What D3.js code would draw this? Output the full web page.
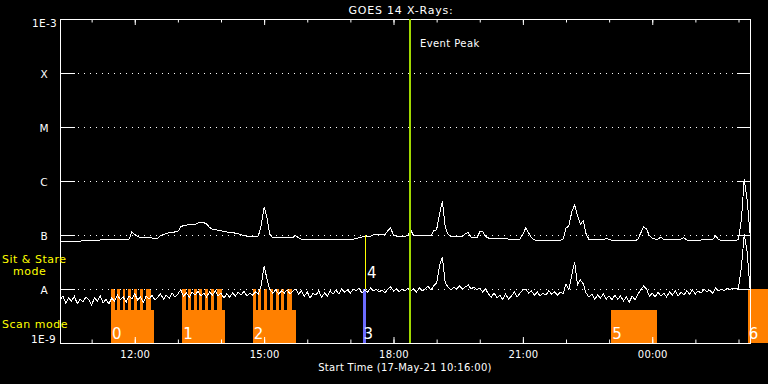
<!DOCTYPE html>
<html>
<head>
<meta charset="utf-8">
<script src="https://cdn.jsdelivr.net/npm/d3@7"></script>
<style>
  body { margin: 0; background: #000; }
  svg { display: block; }
  text { font-family: 'DejaVu Sans', sans-serif; fill: #fff; }
</style>
</head>
<body>
<svg id="chart" width="768" height="384"></svg>
<script>
// GOES 14 X-ray flux, one sample every 4 minutes from the start time
// values are in units of 1e-9 W/m^2
var startTime = '2021-05-17 10:16';
var sampleMinutes = 4;

var longFlux = [
  77, 77, 77, 77, 77, 77, 77, 77,
  78, 78, 78, 79, 79, 80, 81, 81,
  81, 81, 82, 82, 82, 82, 83, 83,
  83, 114, 102, 93, 90, 90, 90, 89,
  88, 87, 88, 98, 102, 107, 111, 112,
  114, 116, 141, 151, 153, 155, 156, 156,
  167, 172, 169, 160, 138, 129, 126, 123,
  120, 117, 114, 112, 111, 108, 105, 102,
  97, 95, 94, 94, 94, 96, 153, 330,
  206, 102, 90, 88, 88, 88, 88, 88,
  88, 90, 97, 88, 84, 84, 84, 84,
  84, 83, 83, 82, 82, 82, 82, 82,
  82, 82, 83, 84, 84, 84, 84, 85,
  90, 92, 92, 92, 94, 102, 103, 103,
  102, 102, 119, 135, 98, 95, 94, 94,
  94, 100, 126, 96, 96, 96, 96, 96,
  96, 96, 119, 126, 244, 420, 141, 102,
  94, 94, 94, 94, 94, 107, 111, 90,
  88, 88, 114, 116, 94, 88, 86, 86,
  86, 86, 85, 85, 84, 84, 83, 83,
  84, 104, 135, 109, 90, 81, 79, 79,
  79, 79, 79, 79, 79, 79, 79, 84,
  135, 147, 267, 359, 225, 160, 182, 104,
  83, 81, 81, 81, 81, 83, 86, 83,
  79, 78, 78, 78, 78, 78, 78, 78,
  78, 83, 109, 141, 129, 98, 87, 84,
  84, 91, 83, 81, 81, 81, 81, 81,
  84, 89, 81, 78, 78, 78, 78, 81,
  84, 82, 81, 83, 96, 84, 78, 78,
  78, 78, 78, 78, 83, 190, 1089, 445,
  110
];

var shortFlux = [
  6.3, 7.4, 5.5, 6.8, 6.0, 7.4, 5.3, 6.5,
  5.7, 7.1, 6.3, 5.1, 6.8, 6.0, 7.4, 5.5,
  6.5, 5.3, 6.8, 6.0, 7.7, 6.3, 7.1, 5.7,
  7.4, 6.5, 8.1, 6.3, 7.1, 5.7, 7.4, 6.5,
  7.7, 6.3, 7.1, 8.1, 6.5, 7.7, 6.8, 8.4,
  7.1, 8.1, 9.6, 7.4, 8.4, 7.1, 8.8, 7.7,
  9.2, 7.4, 8.4, 7.1, 8.8, 7.7, 9.2, 7.4,
  8.4, 6.8, 8.1, 7.1, 8.4, 7.4, 8.8, 7.7,
  9.2, 7.4, 8.4, 7.7, 8.8, 8.1, 11.9, 26.7,
  15.3, 9.6, 8.4, 9.6, 8.1, 9.2, 8.4, 9.6,
  8.1, 9.2, 10.0, 8.1, 9.2, 7.4, 8.8, 6.8,
  8.4, 7.7, 9.2, 7.1, 8.4, 7.4, 9.2, 8.1,
  9.6, 8.1, 10.0, 8.8, 9.6, 8.4, 10.0, 9.2,
  10.4, 8.4, 9.6, 8.8, 10.4, 9.2, 10.0, 8.8,
  9.6, 8.4, 10.0, 10.9, 9.2, 10.0, 8.8, 10.0,
  9.2, 10.4, 9.2, 10.0, 8.8, 10.4, 9.2, 10.0,
  11.4, 9.6, 11.4, 12.9, 26.7, 39.0, 12.9, 10.9,
  9.6, 10.9, 10.0, 11.4, 10.0, 10.9, 11.9, 10.0,
  10.9, 9.6, 10.4, 8.8, 10.0, 8.1, 7.1, 8.4,
  6.8, 7.7, 6.3, 8.1, 6.5, 7.4, 8.8, 7.1,
  8.4, 9.6, 10.0, 8.4, 9.2, 7.7, 8.8, 7.4,
  8.4, 7.7, 9.2, 8.1, 8.8, 7.7, 8.8, 8.1,
  12.4, 9.6, 18.2, 31.6, 11.9, 14.7, 12.4, 8.4,
  7.1, 8.1, 6.5, 7.7, 6.8, 8.1, 6.5, 7.4,
  6.3, 7.7, 6.5, 7.4, 6.0, 7.1, 5.7, 7.4,
  6.3, 8.1, 9.6, 11.4, 10.0, 7.4, 8.4, 7.1,
  8.8, 7.4, 8.4, 7.1, 8.8, 7.7, 9.2, 7.4,
  8.8, 7.7, 9.2, 8.1, 9.6, 8.1, 9.2, 8.4,
  10.0, 8.8, 9.6, 8.4, 10.4, 9.2, 10.0, 9.2,
  10.4, 9.6, 10.4, 10.0, 10.4, 24.5, 105, 48.4,
  10.4
];

// GOES flare classes on the right of the y axis
var classNames = ['A', 'B', 'C', 'M', 'X'];
var classFlux = [1e-8, 1e-7, 1e-6, 1e-5, 1e-4];

// observing blocks (clock time, next day when before the start)
var obsIds    = ['0',     '1',     '2',     '3',     '5',     '6'];
var obsStart  = ['11:27', '13:06', '14:44', '17:17', '23:03', '02:13'];
var obsEnd    = ['12:27', '14:06', '15:44', '17:22', '00:06', '02:45'];
var obsMode   = ['scan',  'scan',  'scan',  'stare', 'scan',  'stare'];

// sit & stare runs inside the scan blocks
var stareRuns = [
  ['11:27', '11:32'], ['11:35', '11:39'], ['11:43', '11:47'], ['11:51', '11:55'],
  ['11:59', '12:03'], ['12:07', '12:11'], ['12:15', '12:22'],
  ['13:06', '13:11'], ['13:14', '13:18'], ['13:22', '13:26'], ['13:30', '13:34'],
  ['13:38', '13:42'], ['13:46', '13:50'], ['13:54', '14:01'],
  ['14:44', '14:49'], ['14:52', '14:56'], ['15:00', '15:04'], ['15:08', '15:12'],
  ['15:16', '15:20'], ['15:24', '15:28'], ['15:32', '15:39']
];

var markerId = '4';
var markerTime = '17:21';
var eventPeak = '18:23';

var parseTime = d3.timeParse('%Y-%m-%d %H:%M');
var t0 = parseTime(startTime);

function clock(s) {
  var d = parseTime('2021-05-17 ' + s);
  if (d < t0) d = d3.timeDay.offset(d, 1);
  return d;
}

var margin = { top: 19, right: 18, bottom: 41, left: 60 };
var width = 768 - margin.left - margin.right;
var height = 384 - margin.top - margin.bottom;

var x = d3.scaleTime()
  .domain([t0, d3.timeHour.offset(t0, 16)])
  .range([margin.left, margin.left + width]);

var y = d3.scaleLog()
  .domain([1e-9, 1e-3])
  .range([margin.top + height, margin.top]);

var modeTop = { scan: 4.1e-9, stare: 1e-8 };

var svg = d3.select('#chart');
svg.append('rect').attr('width', 768).attr('height', 384).attr('fill', '#000');

var obs = obsIds.map(function(id, i) {
  return { id: id, start: clock(obsStart[i]), end: clock(obsEnd[i]), mode: obsMode[i] };
});

// orange blocks
svg.append('g').selectAll('rect')
  .data(obs)
  .enter().append('rect')
  .attr('x', function(d) { return x(d.start); })
  .attr('y', function(d) { return y(modeTop[d.mode]); })
  .attr('width', function(d) { return x(d.end) - x(d.start); })
  .attr('height', function(d) { return y(1e-9) - y(modeTop[d.mode]); })
  .attr('fill', function(d) { return d.id == '3' ? '#6c6cff' : '#ff8000'; })
  .attr('shape-rendering', 'crispEdges');

svg.append('g').selectAll('rect')
  .data(stareRuns)
  .enter().append('rect')
  .attr('x', function(d) { return x(clock(d[0])); })
  .attr('y', y(modeTop.stare))
  .attr('width', function(d) { return x(clock(d[1])) - x(clock(d[0])); })
  .attr('height', y(1e-9) - y(modeTop.stare))
  .attr('fill', '#ff8000')
  .attr('shape-rendering', 'crispEdges');

// dotted class lines
svg.append('g')
  .attr('transform', 'translate(' + margin.left + ',0)')
  .attr('color', '#fff')
  .call(d3.axisRight(y).tickValues(classFlux).tickSize(width).tickFormat(''))
  .call(function(g) { g.select('.domain').remove(); })
  .selectAll('line')
  .attr('stroke-dasharray', '1,5')
  .attr('shape-rendering', 'crispEdges');

// class ticks, left and right
svg.append('g')
  .attr('transform', 'translate(' + margin.left + ',0)')
  .attr('color', '#fff')
  .call(d3.axisLeft(y).tickValues(classFlux).tickSize(-15).tickFormat(''))
  .call(function(g) { g.select('.domain').remove(); });

svg.append('g')
  .attr('transform', 'translate(' + (margin.left + width) + ',0)')
  .attr('color', '#fff')
  .call(d3.axisRight(y).tickValues(classFlux).tickSize(-13).tickFormat(''))
  .call(function(g) { g.select('.domain').remove(); });

// time ticks, top and bottom, pointing inward
var fmt = d3.timeFormat('%H:%M');
function timeAxes(axis, ypos, minor, major, label) {
  svg.append('g')
    .attr('transform', 'translate(0,' + ypos + ')')
    .attr('color', '#fff')
    .call(axis(x).ticks(d3.timeHour.every(1)).tickSize(minor).tickFormat(''))
    .call(function(g) { g.select('.domain').remove(); });
  var g = svg.append('g')
    .attr('transform', 'translate(0,' + ypos + ')')
    .attr('color', '#fff')
    .call(axis(x).ticks(d3.timeHour.every(3)).tickSize(major).tickPadding(8)
      .tickFormat(label ? fmt : ''))
    .call(function(g) { g.select('.domain').remove(); });
  g.selectAll('text')
    .attr('font-family', 'DejaVu Sans, sans-serif')
    .attr('font-size', 10)
    .attr('letter-spacing', 0.2)
    .attr('fill', '#fff');
}
timeAxes(d3.axisBottom, margin.top + height, -3.5, -6, true);
timeAxes(d3.axisTop, margin.top, -3.5, -6, false);

// frame
svg.append('rect')
  .attr('x', margin.left + 0.5)
  .attr('y', margin.top + 0.5)
  .attr('width', width)
  .attr('height', height)
  .attr('fill', 'none')
  .attr('stroke', '#fff')
  .attr('shape-rendering', 'crispEdges');

// flux curves
var line = d3.line()
  .x(function(d, i) { return x(d3.timeMinute.offset(t0, i * sampleMinutes)); })
  .y(function(d) { return y(d * 1e-9); });

[longFlux, shortFlux].forEach(function(series) {
  svg.append('path')
    .datum(series)
    .attr('d', line)
    .attr('fill', 'none')
    .attr('stroke', '#fff')
    .attr('stroke-width', 1)
    .attr('shape-rendering', 'crispEdges');
});

// marker 4 and event peak
svg.append('line')
  .attr('x1', x(clock(markerTime))).attr('x2', x(clock(markerTime)))
  .attr('y1', y(1e-7)).attr('y2', y(1e-8))
  .attr('stroke', '#ffff00')
  .attr('shape-rendering', 'crispEdges');

svg.append('line')
  .attr('x1', x(clock(eventPeak))).attr('x2', x(clock(eventPeak)))
  .attr('y1', margin.top).attr('y2', margin.top + height)
  .attr('stroke', '#a0d800')
  .attr('stroke-width', 2)
  .attr('shape-rendering', 'crispEdges');

// block numbers
svg.append('g').selectAll('text')
  .data(obs)
  .enter().append('text')
  .attr('x', function(d) { return x(d.start) + 1; })
  .attr('y', 339)
  .attr('font-size', 15)
  .text(function(d) { return d.id; });

svg.append('text')
  .attr('x', x(clock(markerTime)) + 1.5)
  .attr('y', 278)
  .attr('font-size', 15)
  .text(markerId);

// labels
svg.append('text')
  .attr('x', 401).attr('y', 13.5)
  .attr('text-anchor', 'middle')
  .attr('font-size', 11)
  .attr('letter-spacing', 0.8)
  .text('GOES 14 X-Rays:');

svg.append('text')
  .attr('x', x(clock(eventPeak)) + 10).attr('y', 47)
  .attr('font-size', 10)
  .attr('letter-spacing', 0.4)
  .text('Event Peak');

svg.append('text')
  .attr('x', 405).attr('y', 371)
  .attr('text-anchor', 'middle')
  .attr('font-size', 10)
  .attr('letter-spacing', 0.3)
  .text('Start Time (17-May-21 10:16:00)');

svg.append('text')
  .attr('x', 57).attr('y', y(1e-3) + 8)
  .attr('text-anchor', 'end')
  .attr('font-size', 10.5)
  .attr('letter-spacing', 0.3)
  .text('1E-3');

svg.append('text')
  .attr('x', 56).attr('y', y(1e-9))
  .attr('text-anchor', 'end')
  .attr('font-size', 10.5)
  .attr('letter-spacing', 0.3)
  .text('1E-9');

svg.append('g').selectAll('text')
  .data(classNames)
  .enter().append('text')
  .attr('x', 44)
  .attr('y', function(d, i) { return y(classFlux[i]) + 4.5; })
  .attr('text-anchor', 'middle')
  .attr('font-size', 10.5)
  .text(function(d) { return d; });

var modeLabels = [['Sit & Stare', 2, 263], ['mode', 13, 275], ['Scan mode', 2, 328]];
svg.append('g').selectAll('text')
  .data(modeLabels)
  .enter().append('text')
  .attr('x', function(d) { return d[1]; })
  .attr('y', function(d) { return d[2]; })
  .attr('font-size', 11)
  .attr('letter-spacing', 0.5)
  .style('fill', '#ffff00')
  .text(function(d) { return d[0]; });
</script>
</body>
</html>
